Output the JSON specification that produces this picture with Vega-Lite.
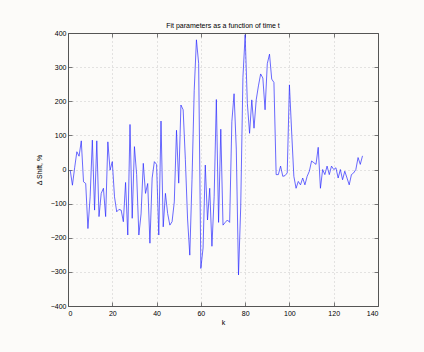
{
  "$schema": "https://vega.github.io/schema/vega-lite/v6.json",
  "width": 310,
  "height": 273,
  "autosize": {"type": "none"},
  "padding": {"left": 68, "top": 33, "right": 46, "bottom": 46},
  "background": "#fcfbf9",
  "title": {"text": "Fit parameters as a function of time t", "fontSize": 7, "font": "Liberation Sans", "fontWeight": "normal", "offset": 0, "color": "#000000"},
  "data": {"values": [
    {"k":1,"shift":-2},{"k":2,"shift":-46},{"k":3,"shift":5},{"k":4,"shift":52},{"k":5,"shift":39},
    {"k":6,"shift":84},{"k":7,"shift":-36},{"k":8,"shift":-41},{"k":9,"shift":-173},{"k":10,"shift":-80},
    {"k":11,"shift":86},{"k":12,"shift":-119},{"k":13,"shift":84},{"k":14,"shift":-138},{"k":15,"shift":-70},
    {"k":16,"shift":-55},{"k":17,"shift":-138},{"k":18,"shift":81},{"k":19,"shift":-2},{"k":20,"shift":23},
    {"k":21,"shift":-80},{"k":22,"shift":-124},{"k":23,"shift":-117},{"k":24,"shift":-119},{"k":25,"shift":-153},
    {"k":26,"shift":-38},{"k":27,"shift":-192},{"k":28,"shift":132},{"k":29,"shift":-143},{"k":30,"shift":67},
    {"k":31,"shift":-15},{"k":32,"shift":-192},{"k":33,"shift":-130},{"k":34,"shift":18},{"k":35,"shift":-70},
    {"k":36,"shift":-41},{"k":37,"shift":-216},{"k":38,"shift":-25},{"k":39,"shift":23},{"k":40,"shift":15},
    {"k":41,"shift":-192},{"k":42,"shift":142},{"k":43,"shift":-168},{"k":44,"shift":-70},{"k":45,"shift":-129},
    {"k":46,"shift":-163},{"k":47,"shift":-153},{"k":48,"shift":-95},{"k":49,"shift":115},{"k":50,"shift":-40},
    {"k":51,"shift":189},{"k":52,"shift":175},{"k":53,"shift":30},{"k":54,"shift":-145},{"k":55,"shift":-251},
    {"k":56,"shift":-30},{"k":57,"shift":232},{"k":58,"shift":380},{"k":59,"shift":311},{"k":60,"shift":-290},
    {"k":61,"shift":-230},{"k":62,"shift":13},{"k":63,"shift":-148},{"k":64,"shift":-55},{"k":65,"shift":-225},
    {"k":66,"shift":-80},{"k":67,"shift":205},{"k":68,"shift":-155},{"k":69,"shift":118},{"k":70,"shift":-163},
    {"k":71,"shift":-155},{"k":72,"shift":-148},{"k":73,"shift":-155},{"k":74,"shift":140},{"k":75,"shift":222},
    {"k":76,"shift":60},{"k":77,"shift":-309},{"k":78,"shift":-110},{"k":79,"shift":270},{"k":80,"shift":395},
    {"k":81,"shift":194},{"k":82,"shift":106},{"k":83,"shift":204},{"k":84,"shift":121},{"k":85,"shift":204},
    {"k":86,"shift":245},{"k":87,"shift":280},{"k":88,"shift":268},{"k":89,"shift":175},{"k":90,"shift":310},
    {"k":91,"shift":338},{"k":92,"shift":265},{"k":93,"shift":255},{"k":94,"shift":-15},{"k":95,"shift":-15},
    {"k":96,"shift":10},{"k":97,"shift":-20},{"k":98,"shift":-18},{"k":99,"shift":-10},{"k":100,"shift":248},
    {"k":101,"shift":110},{"k":102,"shift":-20},{"k":103,"shift":-55},{"k":104,"shift":-35},{"k":105,"shift":-45},
    {"k":106,"shift":-25},{"k":107,"shift":-45},{"k":108,"shift":-20},{"k":109,"shift":-5},{"k":110,"shift":25},
    {"k":111,"shift":20},{"k":112,"shift":15},{"k":113,"shift":65},{"k":114,"shift":-55},{"k":115,"shift":0},
    {"k":116,"shift":-15},{"k":117,"shift":10},{"k":118,"shift":-15},{"k":119,"shift":10},{"k":120,"shift":0},
    {"k":121,"shift":5},{"k":122,"shift":-25},{"k":123,"shift":0},{"k":124,"shift":-30},{"k":125,"shift":-5},
    {"k":126,"shift":-25},{"k":127,"shift":-45},{"k":128,"shift":-15},{"k":129,"shift":-10},{"k":130,"shift":0},
    {"k":131,"shift":35},{"k":132,"shift":15},{"k":133,"shift":40}
  ]},
  "layer": [
    {
      "mark": {"type": "line", "color": "#2a2aff", "strokeWidth": 0.7},
      "encoding": {
        "x": {"field": "k", "type": "quantitative", "scale": {"domain": [0, 140], "nice": false},
          "axis": {"orient": "bottom", "values": [0,20,40,60,80,100,120,140], "title": "k", "grid": true, "labelPadding": 7, "titlePadding": 2}},
        "y": {"field": "shift", "type": "quantitative", "scale": {"domain": [-400, 400], "nice": false},
          "axis": {"orient": "left", "values": [-400,-300,-200,-100,0,100,200,300,400], "title": "Δ Shift, %", "grid": true, "labelPadding": 6, "titlePadding": 8}}
      }
    },
    {
      "mark": {"type": "line", "opacity": 0},
      "encoding": {
        "x": {"field": "k", "type": "quantitative", "scale": {"domain": [0, 140], "nice": false},
          "axis": {"orient": "top", "values": [0,20,40,60,80,100,120,140], "labels": false, "title": null, "grid": false}},
        "y": {"field": "shift", "type": "quantitative", "scale": {"domain": [-400, 400], "nice": false},
          "axis": {"orient": "right", "values": [-400,-300,-200,-100,0,100,200,300,400], "labels": false, "title": null, "grid": false}}
      }
    }
  ],
  "resolve": {"axis": {"x": "independent", "y": "independent"}},
  "config": {
    "view": {"stroke": null},
    "axis": {
      "domainColor": "#555555",
      "domainWidth": 1,
      "tickColor": "#555555",
      "tickSize": -4,
      "tickWidth": 0.8,
      "labelFont": "Liberation Sans",
      "labelFontSize": 7,
      "labelColor": "#000000",
      "titleFont": "Liberation Sans",
      "titleFontSize": 7,
      "titleFontWeight": "normal",
      "titleColor": "#000000",
      "gridColor": "#aaaaaa",
      "gridDash": [1, 3],
      "gridWidth": 0.6
    }
  }
}
